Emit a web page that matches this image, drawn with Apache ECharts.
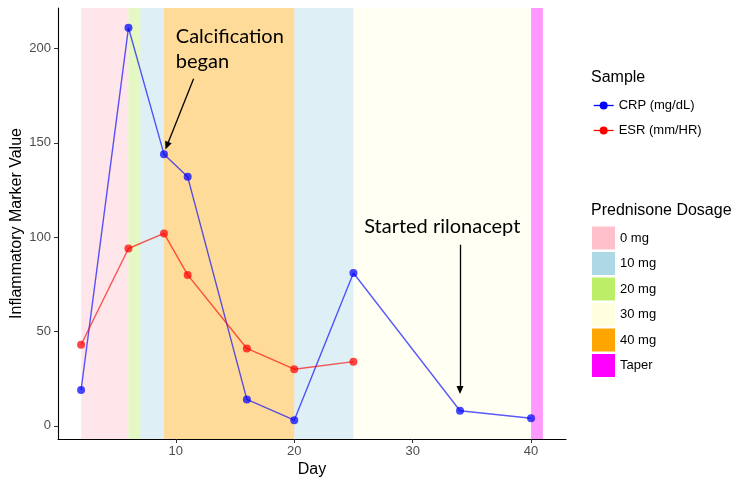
<!DOCTYPE html>
<html><head><meta charset="utf-8">
<script src="https://cdn.jsdelivr.net/npm/echarts@6/dist/echarts.min.js"></script>
<style>html,body{margin:0;padding:0;background:#fff}#c{width:750px;height:487px}</style>
</head><body><div id="c"></div>
<script>
// ---- data ----
const crpDays = [2, 6, 9, 11, 16, 20, 25, 34, 40];
const crpValues = [19, 211, 144, 132, 14, 3, 81, 8, 4];
const esrDays = [2, 6, 9, 11, 16, 20, 25];
const esrValues = [43, 94, 102, 80, 41, 30, 34];
const periodStart = [2, 6, 7, 9, 20, 25, 40];
const periodEnd = [6, 7, 9, 20, 25, 40, 41];
const periodDose = ['0 mg', '20 mg', '10 mg', '40 mg', '10 mg', '30 mg', 'Taper'];
const dosageLabels = ['0 mg', '10 mg', '20 mg', '30 mg', '40 mg', 'Taper'];
const dosageColors = ['#FFC0CB', '#ADD8E6', '#BCEE68', '#FFFFE0', '#FFA500', '#FF00FF'];
const xTicks = [10, 20, 30, 40];
const yTicks = [0, 50, 100, 150, 200];
const noteTexts = ['Calcification\nbegan', 'Started rilonacept'];
const noteAnchor = [[10, 200], [32.5, 105.5]];
const arrowFrom = [[11.5, 184], [34, 96]];
const arrowTo = [[9.25, 148.5], [34, 19]];

const AXIS_FONT = '"Liberation Sans", Arial, Helvetica, sans-serif';
const NOTE_FONT = 'Lato, "Open Sans", sans-serif';

const bandSeries = dosageLabels.map((lab, i) => ({
  name: lab,
  type: 'line',
  data: [],
  z: 1,
  itemStyle: { color: dosageColors[i] },
  lineStyle: { color: dosageColors[i] },
  markArea: {
    silent: true,
    itemStyle: { color: dosageColors[i], opacity: 0.4 },
    data: periodDose.map((d, k) => d === lab ? [{ xAxis: periodStart[k] }, { xAxis: periodEnd[k] }] : null).filter(Boolean)
  }
}));

const dataSeries = [
  { name: 'CRP (mg/dL)', days: crpDays, vals: crpValues, color: '#0000FF' },
  { name: 'ESR (mm/HR)', days: esrDays, vals: esrValues, color: '#FF0000' }
].map(s => ({
  name: s.name,
  type: 'line',
  z: 3,
  data: s.days.map((d, i) => [d, s.vals[i]]),
  symbol: 'circle',
  symbolSize: 8,
  showSymbol: true,
  itemStyle: { color: s.color, opacity: 0.72 },
  lineStyle: { color: s.color, width: 1.4, opacity: 0.65 },
  emphasis: { disabled: true },
  animation: false
}));

const noteSeries = {
  name: 'notes',
  type: 'line',
  data: [],
  z: 4,
  markLine: {
    silent: true,
    symbol: ['none', 'triangle'],
    symbolSize: [7, 8],
    lineStyle: { color: '#000', width: 1.3, type: 'solid' },
    label: { show: false },
    data: arrowFrom.map((f, i) => [{ coord: f }, { coord: arrowTo[i] }])
  },
  markPoint: {
    silent: true,
    symbol: 'circle',
    symbolSize: 0,
    data: noteTexts.map((t, i) => ({
      coord: noteAnchor[i],
      label: {
        show: true,
        formatter: t,
        position: 'inside',
        align: i === 0 ? 'left' : 'center',
        verticalAlign: 'middle',
        fontFamily: NOTE_FONT,
        fontSize: 20,
        lineHeight: 25,
        color: '#000'
      }
    }))
  }
};

const chart = echarts.init(document.getElementById('c'), null, { renderer: 'canvas' });
chart.setOption({
  animation: false,
  backgroundColor: '#fff',
  title: [
    { text: 'Sample', left: 591, top: 70, padding: 0, textStyle: { fontFamily: AXIS_FONT, fontSize: 16, fontWeight: 'normal', color: '#000' } },
    { text: 'Prednisone Dosage', left: 591, top: 203, padding: 0, textStyle: { fontFamily: AXIS_FONT, fontSize: 16, fontWeight: 'normal', color: '#000' } }
  ],
  legend: [
    {
      data: ['CRP (mg/dL)', 'ESR (mm/HR)'],
      orient: 'vertical', left: 593, top: 99, padding: 0,
      itemWidth: 20, itemHeight: 10, itemGap: 12, itemTextGap: 11,
      selectedMode: false,
      itemStyle: { opacity: 1 }, lineStyle: { opacity: 1, width: 1.3 },
      textStyle: { fontFamily: AXIS_FONT, fontSize: 13, color: '#000' }
    },
    {
      data: dosageLabels,
      orient: 'vertical', left: 592, top: 226.5, padding: 0,
      icon: 'rect',
      itemWidth: 23, itemHeight: 23, itemGap: 2.5, itemTextGap: 9,
      selectedMode: false,
      textStyle: { fontFamily: AXIS_FONT, fontSize: 13, color: '#000' }
    }
  ],
  grid: { left: 58, right: 184, top: 8, bottom: 48, containLabel: false, outerBoundsMode: 'none' },
  xAxis: {
    type: 'value', min: 0.05, max: 42.95,
    name: 'Day', nameLocation: 'middle', nameGap: 23, nameMoveOverlap: false,
    nameTextStyle: { fontFamily: AXIS_FONT, fontSize: 16, color: '#000' },
    axisLine: { show: true, onZero: false, lineStyle: { color: '#000', width: 1.1 } },
    axisTick: { show: true, length: 4, customValues: xTicks, lineStyle: { color: '#333' } },
    axisLabel: { customValues: xTicks, margin: 6, fontFamily: AXIS_FONT, fontSize: 13, color: '#4D4D4D' },
    splitLine: { show: false }
  },
  yAxis: {
    type: 'value', min: -7, max: 221.5,
    name: 'Inflammatory Marker Value', nameLocation: 'middle', nameGap: 33, nameRotate: 90, nameMoveOverlap: false,
    nameTextStyle: { fontFamily: AXIS_FONT, fontSize: 16, color: '#000' },
    axisLine: { show: true, onZero: false, lineStyle: { color: '#000', width: 1.1 } },
    axisTick: { show: true, length: 4, customValues: yTicks, lineStyle: { color: '#333' } },
    axisLabel: { customValues: yTicks, margin: 7, fontFamily: AXIS_FONT, fontSize: 13, color: '#4D4D4D' },
    splitLine: { show: false }
  },
  series: [...bandSeries, ...dataSeries, noteSeries]
});
</script></body></html>
